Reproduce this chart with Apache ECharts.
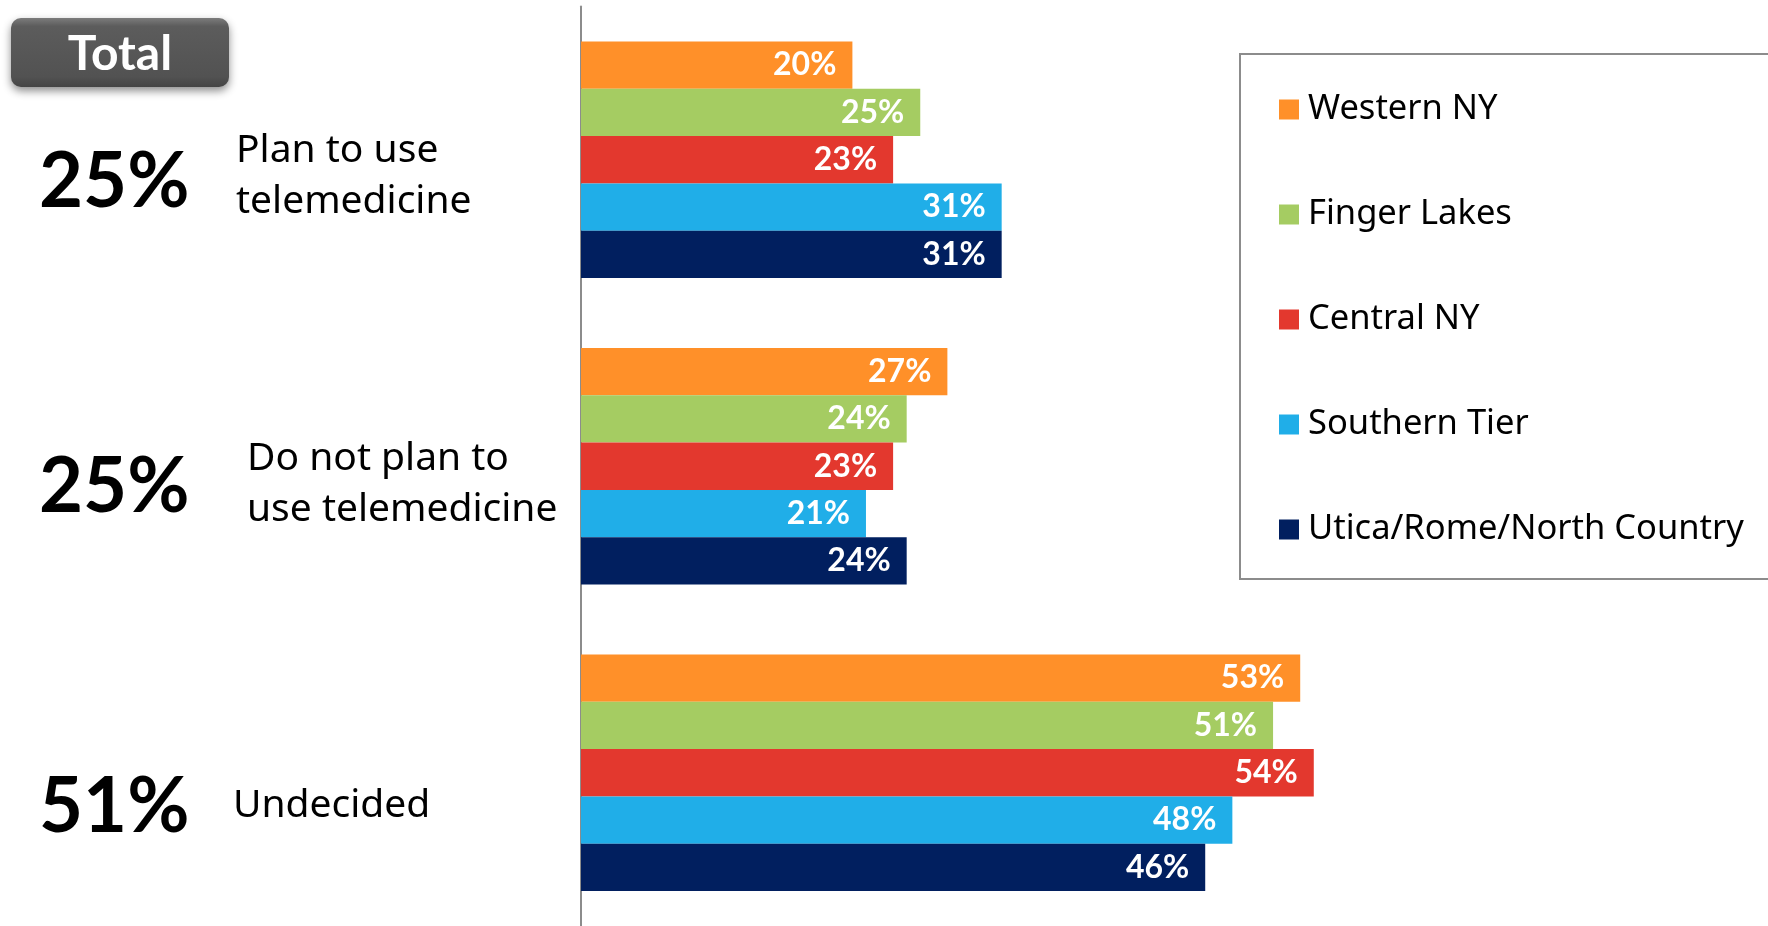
<!DOCTYPE html>
<html>
<head>
<meta charset="utf-8">
<title>Telemedicine plans by region</title>
<script src="https://cdn.jsdelivr.net/npm/echarts@6/dist/echarts.min.js"></script>
<style>
  html, body { margin: 0; padding: 0; background: #ffffff; }
  #chart { width: 1768px; height: 926px; }
</style>
</head>
<body>
<div id="chart"></div>
<script>
// Answer categories (top to bottom) and the overall share for each
const categories = ['Plan to use telemedicine', 'Do not plan to use telemedicine', 'Undecided'];
const categoryLines = [['Plan to use', 'telemedicine'], ['Do not plan to', 'use telemedicine'], ['Undecided']];
const totals = ['25%', '25%', '51%'];

// Regions and their percentages per category
const regions = ['Western NY', 'Finger Lakes', 'Central NY', 'Southern Tier', 'Utica/Rome/North Country'];
const westernNY = [20, 27, 53];
const fingerLakes = [25, 24, 51];
const centralNY = [23, 23, 54];
const southernTier = [31, 21, 48];
const uticaRomeNorthCountry = [31, 24, 46];
const regionValues = [westernNY, fingerLakes, centralNY, southernTier, uticaRomeNorthCountry];

const regionColors = ['#FF9029', '#A5CC62', '#E3382E', '#20AEE8', '#011F5F'];

// Placement of the side texts relative to each category band
const sideLayout = {
  pctX: 39,
  labelX: [236, 247, 233],
  pctDy: [23, 21, 35],
  labelDy: [17, 18, 33]
};

const chart = echarts.init(document.getElementById('chart'), null, { renderer: 'canvas' });

const series = regions.map((name, i) => ({
  name: name,
  type: 'bar',
  data: regionValues[i],
  barWidth: 47.3,
  barGap: '0%',
  itemStyle: { color: regionColors[i] },
  label: {
    show: true,
    position: 'insideRight',
    distance: 16,
    formatter: p => p.value + '%',
    color: '#ffffff',
    fontFamily: 'Lato',
    fontWeight: 'bold',
    fontSize: 32
  },
  emphasis: { disabled: true }
}));

chart.setOption({
  animation: false,
  backgroundColor: '#ffffff',
  grid: { left: 581, top: 6.5, width: 1085.6, bottom: -3.5, containLabel: false },
  xAxis: {
    type: 'value', min: 0, max: 80,
    show: false
  },
  yAxis: {
    type: 'category',
    data: categories,
    inverse: true,
    axisLine: { show: true, lineStyle: { color: '#8c8c8c', width: 2 } },
    axisTick: { show: false },
    axisLabel: { show: false },
    splitLine: { show: false }
  },
  legend: {
    data: regions,
    orient: 'vertical',
    left: 1240,
    top: 54,
    padding: [35.5, 90, 29.5, 39],
    borderColor: '#8c8c8c',
    borderWidth: 2,
    icon: 'rect',
    itemWidth: 20,
    itemHeight: 20,
    itemGap: 65,
    selectedMode: false,
    textStyle: {
      fontFamily: 'Noto Sans',
      fontSize: 34.5,
      lineHeight: 40,
      color: '#000000',
      padding: [0, 0, 0, 4]
    }
  },
  series: series
});

// Side texts: overall share and category name, aligned to each band
const graphics = [];
graphics.push({
  type: 'group',
  left: 11, top: 18,
  children: [
    {
      type: 'rect',
      shape: { x: 0, y: 0, width: 218, height: 69, r: 10 },
      style: {
        fill: new echarts.graphic.LinearGradient(0, 0, 0, 1, [
          { offset: 0, color: '#7c7c7c' },
          { offset: 0.12, color: '#5c5c5c' },
          { offset: 0.85, color: '#525252' },
          { offset: 1, color: '#444444' }
        ]),
        shadowBlur: 8,
        shadowOffsetY: 4,
        shadowColor: 'rgba(0,0,0,0.45)'
      }
    },
    {
      type: 'text',
      x: 109, y: 37,
      style: {
        text: 'Total',
        fill: '#ffffff',
        font: 'bold 48px Lato',
        align: 'center',
        verticalAlign: 'middle'
      }
    }
  ]
});

categories.forEach((c, i) => {
  const cy = chart.convertToPixel({ yAxisIndex: 0 }, c);
  graphics.push({
    type: 'text',
    x: sideLayout.pctX,
    y: cy + sideLayout.pctDy[i],
    style: {
      text: totals[i],
      fill: '#000000',
      font: 'bold 76px Lato',
      align: 'left',
      verticalAlign: 'middle'
    }
  });
  graphics.push({
    type: 'text',
    x: sideLayout.labelX[i],
    y: cy + sideLayout.labelDy[i],
    style: {
      text: categoryLines[i].join('\n'),
      fill: '#000000',
      font: '39px "Noto Sans"',
      lineHeight: 51,
      align: 'left',
      verticalAlign: 'middle'
    }
  });
});

chart.setOption({ graphic: graphics });
</script>
</body>
</html>
